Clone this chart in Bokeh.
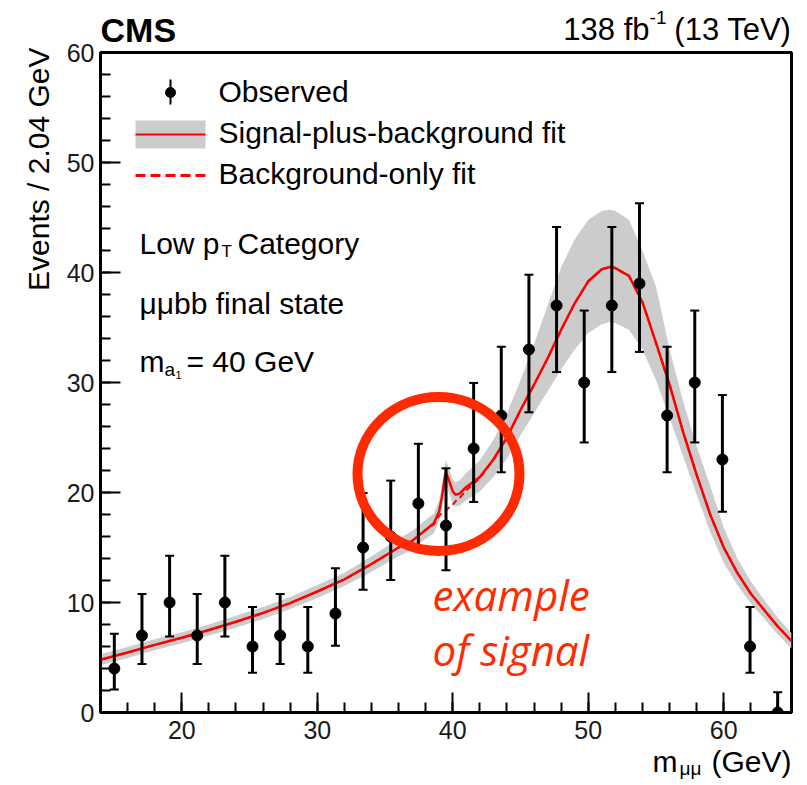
import math
from bokeh.plotting import figure
from bokeh.models import SingleIntervalTicker
from bokeh.core.properties import value
from bokeh.embed import file_html
from bokeh.resources import INLINE

# ---------------- data ----------------
mass_centers = [15.02, 17.06, 19.10, 21.14, 23.18, 25.22, 27.26, 29.30, 31.34,
                33.38, 35.42, 37.46, 39.50, 41.54, 43.58, 45.62, 47.66, 49.70,
                51.74, 53.78, 55.82, 57.86, 59.90, 61.94, 63.98]
observed = [4, 7, 10, 7, 10, 6, 7, 6, 9, 15, 16, 19, 17, 24, 27, 33, 37, 30,
            37, 39, 27, 30, 23, 6, 0]
obs_low = [2.09, 4.42, 6.90, 4.42, 6.90, 3.62, 4.42, 3.62, 6.06, 11.17, 12.05,
           14.68, 12.93, 19.14, 21.84, 27.29, 30.95, 24.55, 30.95, 32.78, 21.84,
           24.55, 18.24, 3.62, 0.0]
obs_high = [7.16, 10.77, 14.26, 10.77, 14.26, 9.58, 10.77, 9.58, 13.11, 19.95,
            21.08, 24.43, 22.20, 29.96, 33.25, 39.80, 44.14, 36.54, 44.14, 46.29,
            33.25, 36.54, 28.86, 9.58, 1.84]

fit_x = [14, 16, 18, 20, 22, 24, 26, 28, 30, 32, 34, 36, 37, 38, 38.6, 39.0,
         39.2, 39.4, 39.5, 39.6, 39.8, 40.0, 40.2, 40.5, 41, 42, 43, 44, 45, 46,
         47, 48, 49, 50, 51, 51.6, 52, 53, 54, 55, 56, 57, 58, 59, 60, 61, 62,
         63, 64, 65]
sb_fit = [4.8, 5.45, 6.15, 6.8, 7.5, 8.25, 9.05, 9.95, 11.0, 12.1, 13.5, 15.0,
          15.6, 16.6, 17.2, 18.3, 19.6, 21.3, 21.8, 21.5, 20.8, 20.1, 19.8, 19.9,
          20.5, 21.4, 23.0, 25.0, 27.5, 29.8, 32.2, 34.8, 37.2, 39.2, 40.3, 40.5,
          40.4, 39.7, 37.3, 33.6, 29.8, 25.5, 21.6, 18.0, 15.0, 12.7, 10.8, 9.3,
          7.8, 6.5]
bkg_fit = [4.8, 5.45, 6.15, 6.8, 7.5, 8.25, 9.05, 9.95, 11.0, 12.1, 13.5, 15.0,
           15.6, 16.6, 17.1, 17.9, 18.1, 18.3, 18.4, 18.5, 18.7, 18.9, 19.2, 19.5,
           20.2, 21.3, 23.0, 25.0, 27.5, 29.8, 32.2, 34.8, 37.2, 39.2, 40.3, 40.5,
           40.4, 39.7, 37.3, 33.6, 29.8, 25.5, 21.6, 18.0, 15.0, 12.7, 10.8, 9.3,
           7.8, 6.5]
band_lo = [4.3, 4.95, 5.65, 6.3, 7.0, 7.7, 8.5, 9.4, 10.4, 11.5, 12.8, 14.2,
           14.8, 15.8, 16.3, 17.4, 18.6, 20.2, 20.7, 20.4, 19.7, 19.0, 18.7, 18.8,
           19.3, 20.1, 21.4, 23.1, 25.2, 27.2, 29.2, 31.2, 33.0, 34.5, 35.3, 35.5,
           35.4, 34.8, 33.0, 30.2, 26.8, 23.3, 19.8, 16.4, 13.6, 11.6, 9.9, 8.5,
           7.1, 5.8]
band_hi = [5.3, 5.95, 6.65, 7.3, 8.0, 8.8, 9.6, 10.5, 11.6, 12.7, 14.2, 15.8,
           16.5, 17.5, 18.1, 19.3, 20.6, 22.4, 22.9, 22.6, 21.9, 21.2, 20.9, 21.1,
           21.8, 22.9, 24.8, 27.2, 30.2, 33.5, 37.0, 40.5, 43.0, 44.8, 45.6, 45.7,
           45.6, 44.8, 42.0, 38.7, 33.0, 28.3, 24.2, 20.6, 16.8, 14.0, 11.9, 10.2,
           8.6, 7.2]

y_title = "Events / 2.04 GeV"

# ---------------- figure ----------------
XMIN, XMAX, YMIN, YMAX = 14, 65, 0, 60
L, R, T, B = 100, 791, 52, 712
W, H = 807, 785

p = figure(width=W, height=H, x_range=(XMIN, XMAX), y_range=(YMIN, YMAX),
           output_backend="svg", toolbar_location=None,
           min_border_left=L, min_border_right=W - R,
           min_border_top=T, min_border_bottom=H - B)
p.background_fill_color = "white"
p.border_fill_color = "white"
p.grid.visible = False
p.outline_line_color = "black"
p.outline_line_width = 3

for ax in (p.xaxis[0], p.yaxis[0]):
    ax.ticker = SingleIntervalTicker(interval=10, num_minor_ticks=5)
    ax.axis_line_width = 3
    ax.axis_line_color = "black"
    ax.major_tick_in = 20
    ax.major_tick_out = 0
    ax.minor_tick_in = 10
    ax.minor_tick_out = 0
    ax.major_tick_line_width = 2
    ax.minor_tick_line_width = 2
    ax.major_tick_line_color = "black"
    ax.minor_tick_line_color = "black"
    ax.major_label_text_font = "Liberation Sans"
    ax.major_label_text_font_size = "25px"
    ax.major_label_text_color = "#1a1a1a"
p.xaxis[0].major_label_standoff = 8
p.yaxis[0].major_label_standoff = 6


def X(px):
    return XMIN + (px - L) * (XMAX - XMIN) / (R - L)


def Y(py):
    return YMAX - (py - T) * (YMAX - YMIN) / (B - T)


# ---------------- fits ----------------
p.varea(x=fit_x, y1=band_lo, y2=band_hi, color="#cccccc")
p.line(fit_x, bkg_fit, line_color="#ff0000", line_width=2, line_dash="6 4")
p.line(fit_x, sb_fit, line_color="#ff0000", line_width=2.5)

# ---------------- observed ----------------
p.segment(x0=mass_centers, y0=obs_low, x1=mass_centers, y1=obs_high,
          line_color="black", line_width=3)
p.scatter(mass_centers, obs_low, marker="dash", size=9, line_color="black",
          line_width=2)
p.scatter(mass_centers, obs_high, marker="dash", size=9, line_color="black",
          line_width=2)
p.scatter(mass_centers, observed, marker="circle", size=11, color="black")

# ---------------- legend (drawn by hand, ROOT style) ----------------
p.segment(x0=[X(170)], y0=[Y(79)], x1=[X(170)], y1=[Y(104)],
          line_color="black", line_width=2)
p.scatter([X(170)], [Y(92)], marker="circle", size=10, color="black")
p.quad(left=[X(135)], right=[X(205)], top=[Y(120)], bottom=[Y(148)],
       fill_color="#cccccc", line_color=None)
p.segment(x0=[X(135)], y0=[Y(134)], x1=[X(205)], y1=[Y(134)],
          line_color="#ff0000", line_width=2)
p.segment(x0=[X(135)], y0=[Y(175)], x1=[X(205)], y1=[Y(175)],
          line_color="#ff0000", line_width=3, line_dash="10 5")

FONT = "Liberation Sans"


def txt(px, py, text, size=30, align="left", bold=False, color="black",
        angle=0, font=FONT, italic=False, baseline="alphabetic"):
    style = "bold" if bold else ("italic" if italic else "normal")
    p.text(x=[X(px)], y=[Y(py)], text=[text], text_font=value(font),
           text_font_size=f"{size}px", text_align=align,
           text_baseline=baseline, text_color=color,
           text_font_style=style, angle=angle, level="overlay")


txt(218, 91, "Observed")
txt(218, 132, "Signal-plus-background fit")
txt(218, 173, "Background-only fit")

# info text
txt(139, 243, "Low p")
txt(221, 251, "T", size=17)
txt(237, 243, "Category")
txt(139, 303, "\u03bc\u03bcbb final state")
txt(139, 361, "m")
txt(164, 369, "a", size=19)
txt(175, 374, "1", size=11)
txt(186, 361, "= 40 GeV")

# header
txt(100, 29, "CMS", size=34, bold=True)
txt(791, 29, "(13 TeV)", size=31, align="right")
txt(666, 17, "-1", size=19, align="right")
txt(649, 29, "138 fb", size=31, align="right")

# axis titles
txt(791, 761, "(GeV)", size=30, align="right")
txt(701, 768, "\u03bc\u03bc", size=19, align="right")
txt(677, 761, "m", size=30, align="right")
txt(38, 47, y_title, size=30, align="right", angle=math.pi / 2)

# ---------------- annotation: example of signal ----------------
p.ellipse(x=[X(438)], y=[Y(473.5)], width=[X(438 + 81) - X(438 - 81)],
          height=[Y(473.5 - 77) - Y(473.5 + 77)], fill_alpha=0,
          line_color="#ff2a00", line_width=10)
txt(432, 594, "example", size=42, color="#ff2a00", font="Open Sans",
    italic=True)
txt(432, 649, "of signal", size=42, color="#ff2a00", font="Open Sans",
    italic=True)

open("out.html", "w").write(file_html(p, INLINE))
